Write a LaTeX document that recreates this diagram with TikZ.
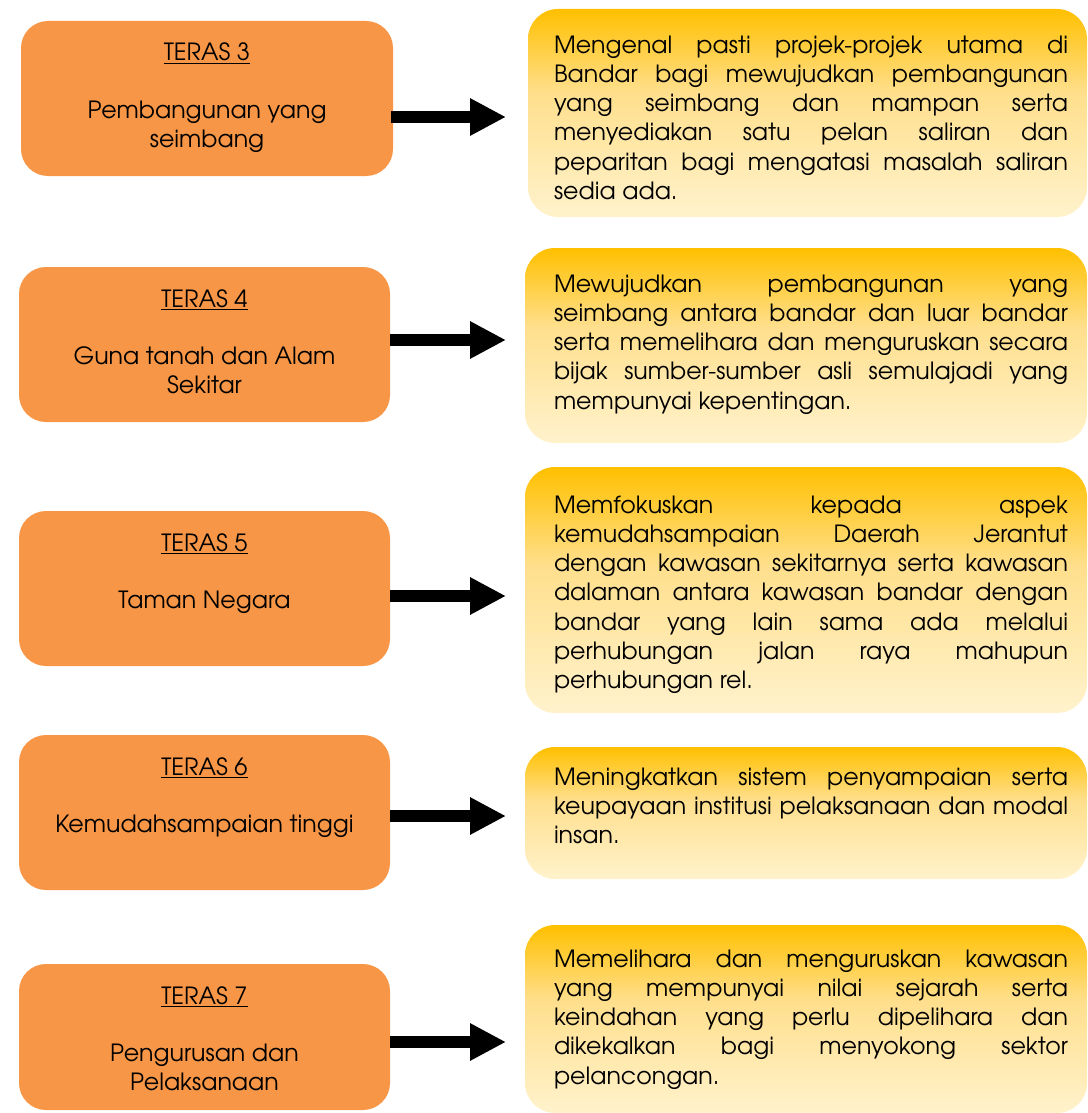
\documentclass[tikz,border=0pt]{standalone}
\usepackage{fontspec}
\setmainfont{TeX Gyre Adventor}
\usetikzlibrary{arrows.meta}
\definecolor{terasfill}{HTML}{F79646}
\definecolor{goldtop}{HTML}{FFC000}
\definecolor{goldmid}{HTML}{FFDF8C}
\definecolor{goldbot}{HTML}{FFF2CC}
\pgfdeclareverticalshading{goldfade}{100bp}{color(0bp)=(goldbot); color(25bp)=(goldbot); color(55bp)=(goldmid); color(75bp)=(goldtop); color(100bp)=(goldtop)}
\newcommand{\jl}[1]{\makebox[514pt][s]{#1}}
\newcommand{\fs}{\rule{0pt}{20pt}}
\tikzset{
  terasbox/.style={fill=terasfill, draw=none, rounded corners=27pt, inner sep=0pt, outer sep=0pt, anchor=north west},
  descbox/.style={shading=goldfade, draw=none, rounded corners=30pt, inner sep=0pt, outer sep=0pt, anchor=north west},
  bigarrow/.style={line width=12pt, -{Triangle[length=36pt,width=35pt]}},
  txt/.style={font=\fontsize{23.7}{29.3}\selectfont, inner sep=0pt, outer sep=0pt, text=black},
  headtxt/.style={txt, anchor=base},
  bodytxt/.style={txt, anchor=north, align=center},
  desctxt/.style={txt, anchor=north west, align=left}
}
\begin{document}
\begin{tikzpicture}[x=1pt,y=-1pt]
\useasboundingbox (0,0) rectangle (1087,1113);
% left boxes
\node[terasbox, minimum width=372pt, minimum height=155pt] (b1) at (21,21) {};
\node[terasbox, minimum width=371pt, minimum height=155pt] (b2) at (19,267) {};
\node[terasbox, minimum width=371pt, minimum height=155pt] (b3) at (19,511) {};
\node[terasbox, minimum width=371pt, minimum height=155pt] (b4) at (19,735) {};
\node[terasbox, minimum width=371pt, minimum height=146pt] (b5) at (19,964) {};
% left texts
\node[headtxt] (h1) at (207,61) {\underline{TERAS 3}};
\node[bodytxt] (t1) at (207,98) {\fs Pembangunan yang\\seimbang};
\node[headtxt] (h2) at (204.5,307) {\underline{TERAS 4}};
\node[bodytxt] (t2) at (204.5,344) {\fs Guna tanah dan Alam\\Sekitar};
\node[headtxt] (h3) at (204.5,551) {\underline{TERAS 5}};
\node[bodytxt] (t3) at (204.5,588) {\fs Taman Negara};
\node[headtxt] (h4) at (204.5,775) {\underline{TERAS 6}};
\node[bodytxt] (t4) at (204.5,812) {\fs Kemudahsampaian tinggi};
\node[headtxt] (h5) at (204.5,1004) {\underline{TERAS 7}};
\node[bodytxt] (t5) at (204.5,1041) {\fs Pengurusan dan\\Pelaksanaan};
% right boxes
\node[descbox, minimum width=559pt, minimum height=208pt] (r1) at (528,9) {};
\node[descbox, minimum width=562pt, minimum height=195pt] (r2) at (525,248) {};
\node[descbox, minimum width=562pt, minimum height=246pt] (r3) at (525,467) {};
\node[descbox, minimum width=562pt, minimum height=132pt] (r4) at (525,747) {};
\node[descbox, minimum width=562pt, minimum height=188pt] (r5) at (525,925) {};
% right texts
\node[desctxt] (d1) at (554,33) {\fs\jl{Mengenal pasti projek-projek utama di}\\
\jl{Bandar bagi mewujudkan pembangunan}\\
\jl{yang seimbang dan mampan serta}\\
\jl{menyediakan satu pelan saliran dan}\\
\jl{peparitan bagi mengatasi masalah saliran}\\
sedia ada.};
\node[desctxt] (d2) at (554,272) {\fs\jl{Mewujudkan pembangunan yang}\\
\jl{seimbang antara bandar dan luar bandar}\\
\jl{serta memelihara dan menguruskan secara}\\
\jl{bijak sumber-sumber asli semulajadi yang}\\
mempunyai kepentingan.};
\node[desctxt] (d3) at (554,493) {\fs\jl{Memfokuskan kepada aspek}\\
\jl{kemudahsampaian Daerah Jerantut}\\
\jl{dengan kawasan sekitarnya serta kawasan}\\
\jl{dalaman antara kawasan bandar dengan}\\
\jl{bandar yang lain sama ada melalui}\\
\jl{perhubungan jalan raya mahupun}\\
perhubungan rel.};
\node[desctxt] (d4) at (554,765) {\fs\jl{Meningkatkan sistem penyampaian serta}\\
\jl{keupayaan institusi pelaksanaan dan modal}\\
insan.};
\node[desctxt] (d5) at (554,947) {\fs\jl{Memelihara dan menguruskan kawasan}\\
\jl{yang mempunyai nilai sejarah serta}\\
\jl{keindahan yang perlu dipelihara dan}\\
\jl{dikekalkan bagi menyokong sektor}\\
pelancongan.};
% arrows
\coordinate (a1s) at (391,117); \coordinate (a1e) at (506,117);
\coordinate (a2s) at (390,340); \coordinate (a2e) at (506,340);
\coordinate (a3s) at (390,596); \coordinate (a3e) at (506,596);
\coordinate (a4s) at (390,816); \coordinate (a4e) at (506,816);
\coordinate (a5s) at (390,1042); \coordinate (a5e) at (506,1042);
\draw[bigarrow] (a1s) -- (a1e);
\draw[bigarrow] (a2s) -- (a2e);
\draw[bigarrow] (a3s) -- (a3e);
\draw[bigarrow] (a4s) -- (a4e);
\draw[bigarrow] (a5s) -- (a5e);
\end{tikzpicture}
\end{document}
